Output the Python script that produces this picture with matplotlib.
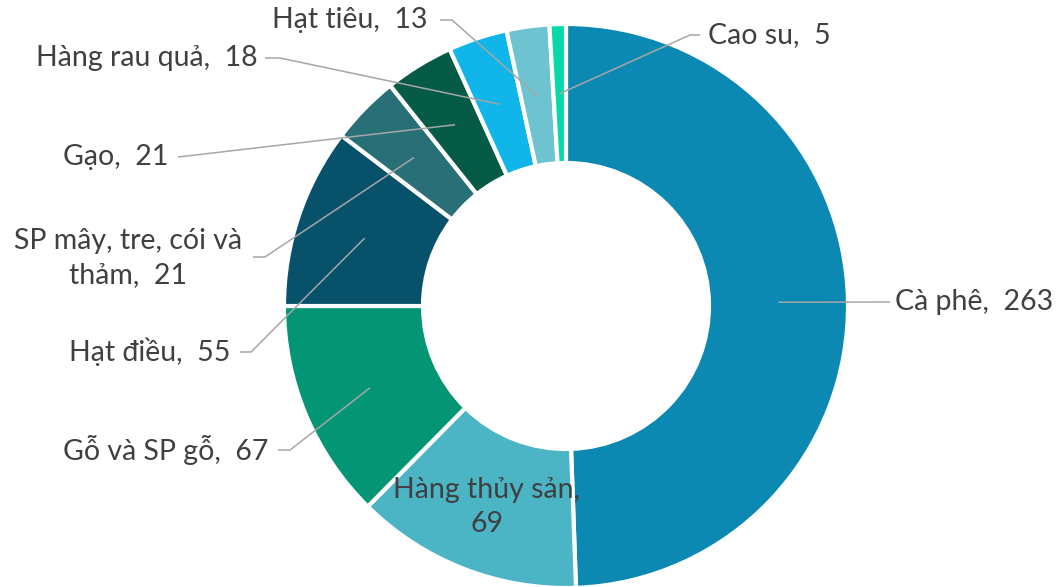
import numpy as np
import matplotlib
matplotlib.use("Agg")
import matplotlib.pyplot as plt

labels = ["Cà phê", "Hàng thủy sản", "Gỗ và SP gỗ", "Hạt điều",
          "SP mây, tre, cói và thảm", "Gạo", "Hàng rau quả", "Hạt tiêu", "Cao su"]
values = [263, 69, 67, 55, 21, 21, 18, 13, 5]
colors = ["#0B89B2", "#4BB4C5", "#039574", "#08516A", "#286F78",
          "#055B45", "#10B6EA", "#6EC3D1", "#06D9A8"]

W, H = 1058, 587
CX, CY = 566, 306      # centre in pixels (from top)
R_OUT, R_IN = 282, 143

# label layout: text position (px), alignment, elbow start (px)
label_text = ["Cà phê,  263", "Hàng thủy sản,\n69", "Gỗ và SP gỗ,  67", "Hạt điều,  55",
              "SP mây, tre, cói và\nthảm,  21", "Gạo,  21", "Hàng rau quả,  18",
              "Hạt tiêu,  13", "Cao su,  5"]
label_pos = [(895, 302), (487, 507), (268, 450), (230, 352), (128, 258),
             (168, 157), (258, 58), (428, 20), (708, 35)]
label_ha = ["left", "center", "right", "right", "center", "right", "right", "right", "left"]
leader = [[(890, 302)], None, [(278, 450), (290, 450)], [(240, 352), (251, 352)],
          [(253, 257), (265, 257)], [(178, 157)], [(265, 58), (280, 58)],
          [(440, 20), (452, 20)], [(700, 35), (690, 35)]]

plt.rcParams["font.family"] = ["Lato", "DejaVu Sans"]

fig = plt.figure(figsize=(W / 100, H / 100), dpi=100)
ax = fig.add_axes([0, 0, 1, 1])

wedges, _ = ax.pie(values, colors=colors, radius=R_OUT, center=(CX, H - CY),
                   startangle=90, counterclock=False,
                   wedgeprops=dict(width=R_OUT - R_IN, edgecolor="white", linewidth=3))
ax.set_xlim(0, W)
ax.set_ylim(0, H)
ax.set_aspect("equal")
ax.axis("off")

r_mid = (R_OUT + R_IN) / 2
for w, txt, (tx, ty), ha, pts in zip(wedges, label_text, label_pos, label_ha, leader):
    ax.text(tx, H - ty, txt, ha=ha, va="center", fontsize=20.5, color="#404040",
            linespacing=1.38)
    if pts is None:
        continue
    ang = np.deg2rad((w.theta1 + w.theta2) / 2)
    end = (CX + r_mid * np.cos(ang), H - CY + r_mid * np.sin(ang))
    xs = [p[0] for p in pts] + [end[0]]
    ys = [H - p[1] for p in pts] + [end[1]]
    ax.plot(xs, ys, color="#A6A6A6", linewidth=1.1, solid_capstyle="butt")

fig.savefig("out.png", dpi=100)
